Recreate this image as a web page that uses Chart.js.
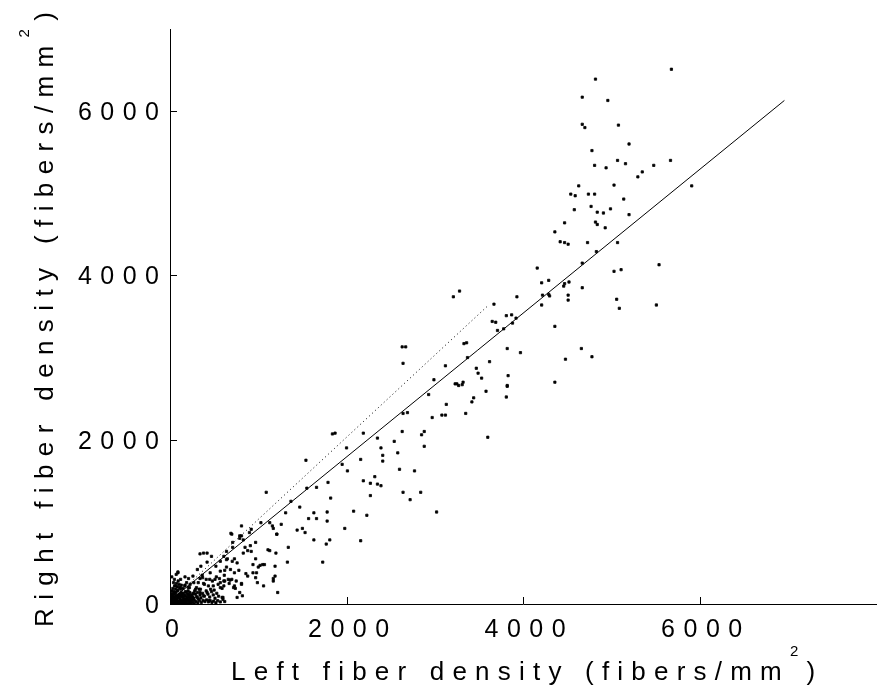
<!DOCTYPE html>
<html>
<head>
<meta charset="utf-8">
<script src="https://cdn.jsdelivr.net/npm/chart.js@4.4.1/dist/chart.umd.min.js"></script>
<style>
html, body { margin: 0; padding: 0; background: #fff; }
</style>
</head>
<body>
<canvas id="chart" width="881" height="694"></canvas>
<script>
// left / right fiber density per sample (fibers/mm^2)
const leftDensity = [
    5680, 4820, 4670, 4960, 4670, 4700, 5080, 5200, 4780, 4810, 4940, 5070, 5160, 5670, 5480, 5350,
    5300, 5030, 5910, 4630, 4540, 4590, 4740, 4810, 5140, 4770, 4580, 4910, 4840, 4990, 5200, 4820,
    4840, 4930, 4470, 4360, 4420, 4470, 4510, 4730, 4830, 5070, 5030, 5110, 5540, 4670, 4160, 4210,
    4290, 4290, 4210, 4220, 4470, 4510, 4670, 5060, 5090, 5510, 4360, 4480, 4660, 4780, 4360, 3930,
    3870, 3810, 3650, 3690, 3710, 3880, 3210, 3280, 3670, 3820, 3970, 3620, 3470, 3490, 3530, 3830,
    3820, 3810, 3580, 3440, 3420, 3350, 3330, 3360, 3370, 3250, 3310, 3120, 2990, 2930, 3130, 3080,
    3120, 2970, 2630, 2670, 2640, 2640, 2690, 2630, 2580, 2540, 2880, 2850, 2880, 3600, 2600, 2770,
    2640, 2720, 2840, 3020, 2350, 2390, 2410, 2410, 2190, 2160, 2000, 2010, 1950, 1870, 1840, 2320,
    2190, 2270, 2350, 2390, 2270, 2080, 2230, 2160, 1980, 1790, 1820, 1780, 1780, 1810, 1770, 1730,
    1630, 1660, 1630, 1570, 1500, 1530, 1440, 1470, 1550, 1540, 1660, 1370, 1310, 1260, 1340, 1330,
    1090, 1130, 1170, 1210, 1110, 1200, 1170, 1220, 1050, 1000, 970, 940, 920, 850, 830, 790,
    700, 730, 760, 780, 810, 730, 680, 640, 650, 620, 610, 570, 600,
    3920, 3780, 4300, 4520, 4460, 3320, 3270, 3230, 3820, 4510,
    690, 810, 790, 900, 710, 710, 640, 610, 520, 420, 340, 380, 350, 310, 340, 370,
    260, 270, 210, 170, 120, 90, 40, 60, 120, 170, 220, 290, 340, 420, 460, 490,
    570, 610, 670, 740, 790, 820, 760, 590, 440, 380, 310, 380, 450, 510, 560, 620,
    700, 750, 810, 720, 880, 940, 1020, 1070, 970, 990, 980, 860, 830, 880, 910, 970,
    1130, 1190, 1190, 1170, 1060, 810, 920, 1030, 1160, 1210, 570, 470, 420, 70, 90, 20, 50,
    10, 20, 30, 40, 50, 60, 70, 80, 90, 100, 110, 120, 130, 140, 150, 160,
    170, 180, 190, 200, 210, 220, 230, 240, 15, 25, 35, 45, 55, 65, 75, 85,
    95, 105, 115, 125, 135, 145, 155, 165, 175, 185, 195, 205, 215, 225, 250, 260,
    270, 280, 290, 300, 310, 320, 330, 340, 350, 370, 390, 410, 430, 450, 470, 490,
    510, 530, 550, 5, 12, 22, 32, 42, 52, 62, 72, 82, 92, 102, 30, 8,
    18, 48, 68, 88, 108, 128, 148, 168, 188, 208, 228, 5, 15, 35, 55, 75,
    95, 115, 135, 155, 175, 195, 215, 235, 255, 275, 295, 315, 335, 355, 375, 395,
    415, 435, 455, 475, 495, 520, 540, 570, 600, 620,
    3, 8, 14, 19, 26, 33, 38, 44, 51, 57, 63, 69, 77, 84, 91, 98,
    106, 113, 121, 128, 136, 143, 151, 158, 166, 173, 181, 188, 196, 203, 211, 218,
    226, 233, 241, 248, 256, 263, 271, 278,
    300, 320, 345, 365, 390, 410, 435, 455, 480, 500, 525, 545, 570, 590, 615, 640,
    660, 685, 705, 730,
]
const rightDensity = [
    6510, 6390, 6170, 6130, 5840, 5800, 5830, 5600, 5520, 5340, 5310, 5400, 5360, 5400, 5340, 5260,
    5200, 5100, 5090, 5090, 4990, 4970, 4990, 4990, 4930, 4840, 4800, 4760, 4770, 4810, 4740, 4650,
    4620, 4580, 4640, 4530, 4410, 4400, 4380, 4400, 4290, 4400, 4050, 4070, 4130, 4150, 4090, 3910,
    3940, 3770, 3640, 3760, 3900, 3760, 3850, 3710, 3600, 3640, 3380, 2980, 3110, 3010, 2700, 3740,
    3520, 3510, 3440, 3430, 3330, 3420, 3740, 3810, 3650, 3110, 3060, 2950, 2870, 2810, 2750, 2780,
    2650, 2520, 2590, 2510, 2460, 2320, 3170, 3180, 3000, 2680, 2670, 2900, 2730, 2550, 2430, 2300,
    2300, 2270, 3130, 3130, 2930, 2320, 2330, 2100, 1840, 1980, 2100, 2060, 1920, 2030, 1640, 1620,
    1360, 1270, 1360, 1120, 2020, 1900, 1810, 1740, 2080, 1760, 1900, 1620, 1700, 2080, 2070, 1550,
    1500, 1470, 1460, 1440, 1320, 1130, 1080, 770, 920, 1480, 1290, 1120, 1010, 780, 730, 510,
    780, 1040, 1110, 1040, 920, 870, 900, 1180, 1410, 1750, 1420, 1250, 1110, 970, 690, 510,
    1360, 990, 920, 850, 660, 620, 310, 140, 480, 450, 550, 380, 640, 690, 780, 830,
    850, 550, 500, 410, 240, 220, 290, 640, 550, 410, 280, 200, 80,
    3480, 3350, 3750, 3920, 3870, 2700, 2660, 2680, 2660, 3700,
    860, 830, 800, 870, 750, 690, 540, 580, 460, 510, 610, 620, 460, 420, 310, 320,
    340, 260, 310, 330, 300, 390, 260, 220, 200, 230, 200, 180, 140, 140, 180, 220,
    260, 220, 250, 190, 140, 100, 80, 80, 40, 100, 80, 250, 300, 300, 310, 280,
    300, 280, 250, 200, 340, 480, 470, 480, 320, 260, 380, 370, 620, 650, 710, 750,
    650, 460, 340, 280, 220, 950, 910, 990, 950, 850, 520, 580, 620, 360, 380, 330, 300,
    5, 15, 8, 25, 12, 30, 18, 40, 22, 10, 35, 50, 28, 15, 45, 60,
    32, 20, 55, 70, 40, 25, 80, 50, 40, 60, 30, 75, 50, 90, 65, 100,
    80, 120, 95, 140, 110, 85, 130, 105, 150, 90, 125, 160, 110, 140, 100, 130,
    70, 160, 120, 90, 140, 60, 180, 110, 75, 130, 95, 160, 120, 85, 150, 110,
    70, 130, 95, 100, 130, 160, 190, 150, 220, 180, 250, 210, 280, 240, 110, 60,
    85, 120, 140, 170, 200, 230, 190, 220, 260, 200, 240, 20, 5, 2, 3, 6,
    4, 8, 3, 6, 9, 4, 7, 12, 18, 9, 30, 15, 40, 20, 45, 30,
    50, 25, 40, 20, 35, 15, 40, 25, 55, 30,
    45, 70, 25, 95, 55, 120, 35, 85, 140, 65, 20, 105, 48, 160, 78, 30,
    115, 62, 180, 92, 40, 130, 72, 22, 100, 58, 145, 35, 82, 118, 50, 90,
    28, 70, 110, 45, 85, 60, 130, 40,
    200, 260, 180, 350, 240, 300, 220, 380, 280, 170, 330, 240, 400, 190, 350, 450,
    300, 420, 520, 380,
]

// fitted regression line and the dotted unity line (end points)
const fitX = [0, 6960]
const fitY = [40, 6130]
const unityX = [0, 3600]
const unityY = [30, 3630]

const xTicks = [0, 2000, 4000, 6000]
const yTicks = [0, 2000, 4000, 6000]
const xTitle = ['Left fiber density (fibers/mm', '2', ')']
const yTitle = ['Right fiber density (fibers/mm', '2', ')']

const FONT = '"Liberation Sans", Arial, Helvetica, sans-serif'
const tickFont = '25px ' + FONT
const titleFont = '26px ' + FONT
const supFont = '15px ' + FONT

const toPoints = (xs, ys) => xs.map((x, i) => ({ x, y: ys[i] }))

// draw text char by char with even spacing (the reference uses very wide tracking)
function drawSpaced(ctx, parts, x, y, opts) {
    const glyphs = []
    parts.forEach((p) => {
        ctx.font = p.font
        for (const ch of p.text) {
            glyphs.push({ ch, font: p.font, rise: p.rise || 0, w: ctx.measureText(ch).width })
        }
    })
    const sum = glyphs.reduce((a, g) => a + g.w, 0)
    const spacing = opts.length != null
        ? (opts.length - sum) / (glyphs.length - 1)
        : opts.spacing
    const total = sum + spacing * (glyphs.length - 1)
    let cx = x
    if (opts.align === 'center') cx = x - total / 2
    if (opts.align === 'right') cx = x - total
    ctx.textAlign = 'left'
    ctx.textBaseline = 'alphabetic'
    glyphs.forEach((g) => {
        ctx.font = g.font
        ctx.fillText(g.ch, cx, y - g.rise)
        cx += g.w + spacing
    })
}

const titleParts = (t) => [
    { text: t[0], font: titleFont },
    { text: t[1], font: supFont, rise: 24 },
    { text: t[2], font: titleFont },
]

const axisDecor = {
    id: 'axisDecor',
    afterDraw(chart) {
        const { ctx, chartArea, scales } = chart
        const xs = scales.x
        const ys = scales.y
        ctx.save()
        ctx.fillStyle = '#000'
        ctx.strokeStyle = '#000'
        ctx.lineWidth = 1

        // inward tick marks
        ctx.beginPath()
        xTicks.forEach((v) => {
            const px = Math.round(xs.getPixelForValue(v)) + 0.5
            ctx.moveTo(px, chartArea.bottom)
            ctx.lineTo(px, chartArea.bottom - 7)
        })
        yTicks.forEach((v) => {
            const py = Math.round(ys.getPixelForValue(v)) + 0.5
            ctx.moveTo(chartArea.left, py)
            ctx.lineTo(chartArea.left + 7, py)
        })
        ctx.stroke()

        // tick labels
        xTicks.forEach((v) => {
            drawSpaced(ctx, [{ text: String(v), font: tickFont }],
                xs.getPixelForValue(v) + 2, chartArea.bottom + 33, { align: 'center', spacing: 8.5 })
        })
        yTicks.forEach((v) => {
            drawSpaced(ctx, [{ text: String(v), font: tickFont }],
                chartArea.left - 11, ys.getPixelForValue(v) + 9, { align: 'right', spacing: 8.5 })
        })

        // axis titles
        const midX = (chartArea.left + chartArea.right) / 2
        const midY = (chartArea.top + chartArea.bottom) / 2
        drawSpaced(ctx, titleParts(xTitle), midX, 680, { align: 'center', length: 584 })

        ctx.translate(53, midY + 3)
        ctx.rotate(-Math.PI / 2)
        drawSpaced(ctx, titleParts(yTitle), 0, 0, { align: 'center', length: 615 })
        ctx.restore()
    },
}

new Chart(document.getElementById('chart'), {
    type: 'scatter',
    data: {
        datasets: [
            {
                type: 'line',
                data: toPoints(fitX, fitY),
                borderColor: '#000',
                borderWidth: 1,
                pointRadius: 0,
                fill: false,
                tension: 0,
            },
            {
                type: 'line',
                data: toPoints(unityX, unityY),
                borderColor: '#000',
                borderWidth: 1,
                borderDash: [1, 3],
                pointRadius: 0,
                fill: false,
                tension: 0,
            },
            {
                data: toPoints(leftDensity, rightDensity),
                pointStyle: 'rect',
                pointRadius: 1.6,
                backgroundColor: '#000',
                borderColor: '#000',
                borderWidth: 0.8,
            },
        ],
    },
    options: {
        responsive: false,
        animation: false,
        layout: { padding: { top: 29, right: 0, bottom: 0, left: 0 } },
        plugins: {
            legend: { display: false },
            tooltip: { enabled: false },
        },
        scales: {
            x: {
                type: 'linear',
                min: 0,
                max: 8000,
                afterBuildTicks: (s) => { s.ticks = xTicks.map((value) => ({ value })) },
                afterFit: (s) => { s.height = 90 },
                grid: { display: false },
                border: { display: true, color: '#000', width: 1 },
                ticks: { display: false },
            },
            y: {
                type: 'linear',
                min: 0,
                max: 7000,
                afterBuildTicks: (s) => { s.ticks = yTicks.map((value) => ({ value })) },
                afterFit: (s) => { s.width = 170 },
                grid: { display: false },
                border: { display: true, color: '#000', width: 1 },
                ticks: { display: false },
            },
        },
    },
    plugins: [axisDecor],
})
</script>
</body>
</html>
